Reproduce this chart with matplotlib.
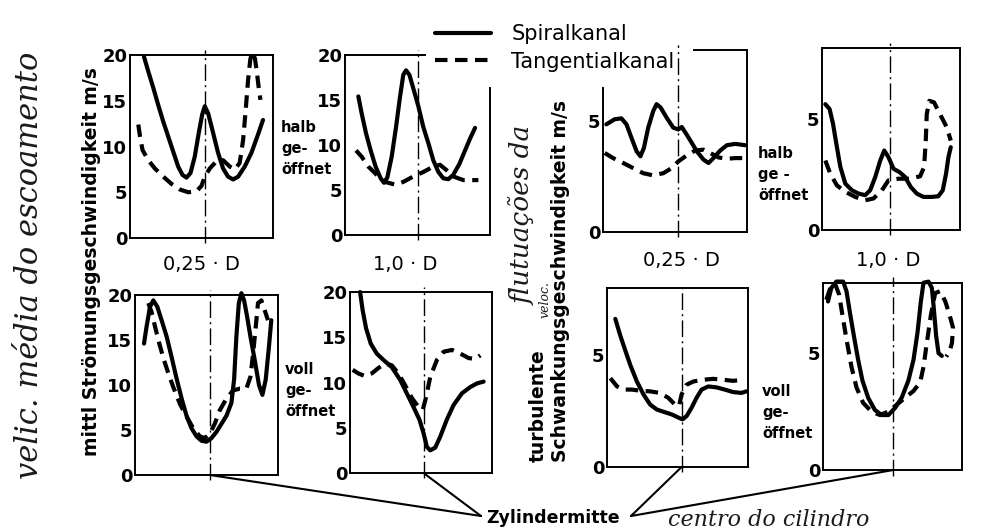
import matplotlib.pyplot as plt

# --- Daten (x = Position über die Messbreite 0..1, y = Geschwindigkeit m/s) ---
# oben links: mittl. Geschwindigkeit, 0,25 D, halb geöffnet
p1_sp_x = [.098, .128, .163, .198, .233, .267, .302, .337, .367, .395, .423, .453, .481, .505, .523,
           .547, .581, .616, .651, .686, .721, .756, .802, .849, .895, .930]
p1_sp_y = [19.8, 18.2, 16.4, 14.5, 12.7, 11.1, 9.45, 7.8, 6.9, 6.6, 7.1, 8.9, 11.5, 13.5, 14.4,
           13.6, 11.5, 9.3, 7.6, 6.7, 6.4, 6.7, 7.8, 9.3, 11.3, 12.9]
p1_ta_x = [.058, .070, .088, .128, .174, .233, .291, .349, .407, .465, .500, .523, .558, .605,
           .651, .698, .733, .767, .791, .809, .826, .842, .856, .874, .888, .902, .912]
p1_ta_y = [12.4, 11.1, 9.6, 8.5, 7.6, 6.7, 5.9, 5.3, 5.0, 5.1, 5.7, 6.7, 7.6, 8.4,
           8.5, 7.8, 7.5, 8.2, 10.7, 14.0, 17.3, 19.6, 20.3, 19.6, 18.0, 16.2, 15.1]

# mittl. Geschwindigkeit, 1,0 D, halb geöffnet
p2_sp_x = [.092, .115, .145, .177, .211, .246, .269, .292, .322, .352, .379, .402, .421, .444,
           .471, .506, .540, .575, .609, .644, .678, .713, .747, .789, .828, .862, .897]
p2_sp_y = [15.4, 13.5, 11.3, 9.4, 7.6, 6.3, 5.8, 6.4, 8.7, 12.0, 15.3, 17.8, 18.3, 17.8,
           16.3, 14.3, 12.0, 10.2, 8.3, 7.0, 6.3, 6.2, 6.7, 7.9, 9.4, 10.7, 11.9]
p2_ta_x = [.076, .115, .161, .218, .276, .345, .402, .471, .540, .609, .655, .701, .747, .816, .874, .920]
p2_ta_y = [9.4, 8.7, 7.6, 6.7, 5.9, 5.6, 5.9, 6.5, 7.0, 7.6, 7.8, 7.2, 6.5, 6.1, 6.1, 6.1]

# turbulente Schwankung, 0,25 D, halb geöffnet
p3_sp_x = [.023, .081, .128, .163, .198, .233, .260, .284, .314, .349, .372, .400, .442, .488,
           .523, .547, .581, .616, .651, .698, .733, .767, .814, .860, .919, .988]
p3_sp_y = [4.85, 5.08, 5.12, 4.85, 4.24, 3.64, 3.41, 3.79, 4.70, 5.45, 5.76, 5.61, 5.15, 4.70,
           4.62, 4.73, 4.39, 4.02, 3.64, 3.26, 3.11, 3.33, 3.67, 3.91, 3.97, 3.91]
p3_ta_x = [.012, .070, .140, .209, .279, .349, .419, .477, .523, .581, .640, .698, .744, .802, .860, .919, .977]
p3_ta_y = [3.56, 3.33, 3.11, 2.88, 2.65, 2.55, 2.65, 2.88, 3.18, 3.45, 3.67, 3.71, 3.56, 3.36, 3.30, 3.33, 3.33]

# turbulente Schwankung, 1,0 D, halb geöffnet
p4_sp_x = [.024, .055, .080, .104, .133, .169, .217, .265, .313, .349, .386, .422, .451, .482,
           .518, .561, .602, .643, .687, .735, .795, .843, .875, .899, .916, .933]
p4_sp_y = [5.67, 5.45, 4.78, 3.88, 2.84, 2.09, 1.79, 1.64, 1.57, 1.79, 2.39, 3.13, 3.58, 3.28,
           2.76, 2.61, 2.39, 1.94, 1.64, 1.49, 1.49, 1.52, 1.79, 2.54, 3.28, 3.73]
p4_ta_x = [.024, .060, .108, .169, .241, .313, .373, .434, .482, .554, .639, .711, .740, .752,
           .759, .778, .812, .855, .904, .933]
p4_ta_y = [3.13, 2.54, 2.01, 1.72, 1.49, 1.34, 1.42, 1.79, 2.24, 2.31, 2.31, 2.42, 2.84, 4.03,
           5.22, 5.82, 5.75, 5.22, 4.63, 4.03]

# mittl. Geschwindigkeit, 0,25 D, voll geöffnet
p5_sp_x = [.063, .081, .105, .128, .156, .186, .221, .256, .291, .326, .360, .395, .430, .465,
           .500, .535, .570, .605, .640, .674, .693, .709, .726, .744, .763, .784, .807, .837,
           .867, .891, .914, .937, .953]
p5_sp_y = [14.6, 16.5, 18.7, 19.4, 18.7, 17.2, 15.4, 13.1, 10.7, 8.5, 6.6, 5.2, 4.3, 3.8,
           3.7, 4.1, 4.8, 5.7, 6.6, 8.0, 10.6, 15.4, 19.1, 20.2, 19.4, 17.6, 15.4, 12.8,
           10.0, 8.9, 10.6, 14.3, 17.2]
p5_ta_x = [.093, .116, .140, .170, .202, .233, .267, .314, .360, .407, .453, .488, .523, .558,
           .593, .640, .686, .733, .779, .807, .826, .844, .860, .884, .907, .930]
p5_ta_y = [19.1, 18.1, 16.5, 14.6, 12.8, 11.3, 9.8, 7.9, 6.5, 5.2, 4.3, 4.1, 4.6, 5.7,
           7.2, 8.5, 9.4, 9.6, 9.6, 10.9, 13.5, 16.4, 19.1, 19.4, 18.3, 17.2]

# mittl. Geschwindigkeit, 1,0 D, voll geöffnet
p6_sp_x = [.071, .089, .113, .146, .188, .235, .294, .353, .400, .447, .489, .518, .541, .565,
           .600, .635, .682, .729, .788, .847, .894, .941]
p6_sp_y = [20.0, 18.0, 16.0, 14.3, 13.2, 12.5, 11.7, 10.3, 8.8, 7.3, 5.9, 4.4, 2.9, 2.5,
           2.8, 4.0, 5.9, 7.5, 8.8, 9.5, 9.9, 10.1]
p6_ta_x = [.019, .059, .106, .153, .200, .247, .294, .341, .388, .435, .482, .513, .536, .565,
           .612, .659, .718, .776, .835, .882, .918]
p6_ta_y = [11.4, 11.0, 10.7, 11.0, 11.6, 12.1, 11.9, 11.0, 9.7, 8.3, 7.3, 7.0, 8.4, 10.6,
           12.5, 13.4, 13.6, 13.2, 12.7, 12.6, 13.0]

# turbulente Schwankung, 0,25 D, voll geöffnet
p7_sp_x = [.059, .094, .129, .165, .212, .259, .306, .353, .400, .459, .506, .536, .565, .600,
           .635, .671, .718, .776, .835, .894, .953, .988]
p7_sp_y = [6.62, 5.88, 5.22, 4.56, 3.82, 3.24, 2.79, 2.57, 2.47, 2.35, 2.21, 2.13, 2.28, 2.65,
           3.09, 3.46, 3.60, 3.56, 3.46, 3.35, 3.31, 3.38]
p7_ta_x = [.024, .071, .118, .176, .235, .306, .376, .435, .482, .511, .529, .565, .612, .682,
           .753, .824, .894, .965]
p7_ta_y = [3.97, 3.60, 3.46, 3.46, 3.41, 3.38, 3.31, 3.09, 2.79, 2.72, 3.24, 3.68, 3.82, 3.90,
           3.94, 3.90, 3.85, 3.90]

# turbulente Schwankung, 1,0 D, voll geöffnet
p8_sp_x = [.036, .060, .096, .145, .169, .193, .222, .253, .284, .325, .373, .422, .470, .518,
           .566, .614, .651, .680, .704, .723, .759, .783, .795, .814, .831, .855]
p8_sp_y = [7.21, 7.79, 8.06, 8.06, 7.65, 6.76, 5.74, 4.71, 3.82, 3.09, 2.57, 2.35, 2.35, 2.65,
           3.09, 3.82, 4.71, 5.88, 7.21, 8.01, 8.06, 7.79, 7.06, 5.74, 5.00, 4.88]
p8_ta_x = [.024, .053, .084, .116, .140, .169, .205, .241, .289, .349, .410, .470, .530, .590,
           .651, .699, .723, .747, .776, .807, .843, .880, .911, .935, .928, .911, .887]
p8_ta_y = [7.28, 7.79, 8.01, 7.50, 6.62, 5.59, 4.41, 3.53, 2.87, 2.50, 2.35, 2.50, 2.79, 3.09,
           3.38, 3.75, 4.41, 5.44, 6.62, 7.57, 7.65, 7.21, 6.62, 6.10, 5.44, 5.07, 4.85]

# Lage der Zylindermitte in jedem Diagramm
centers = [.523, .506, .523, .494, .523, .518, .529, .506]

W, H = 985, 531
fig = plt.figure(figsize=(W / 100, H / 100), dpi=100)
fig.patch.set_facecolor('white')


def px_axes(l, t, r, b):
    return fig.add_axes([l / W, 1 - b / H, (r - l) / W, (b - t) / H])


def fx(x):
    return x / W


def fy(y):
    return 1 - y / H


boxes = [(130, 55, 273, 238), (345, 55, 490, 235), (603, 50, 747, 232), (822, 48, 960, 230),
         (135, 295, 278, 475), (350, 292, 492, 473), (607, 288, 748, 467), (823, 283, 962, 470)]
series = [(p1_sp_x, p1_sp_y, p1_ta_x, p1_ta_y), (p2_sp_x, p2_sp_y, p2_ta_x, p2_ta_y),
          (p3_sp_x, p3_sp_y, p3_ta_x, p3_ta_y), (p4_sp_x, p4_sp_y, p4_ta_x, p4_ta_y),
          (p5_sp_x, p5_sp_y, p5_ta_x, p5_ta_y), (p6_sp_x, p6_sp_y, p6_ta_x, p6_ta_y),
          (p7_sp_x, p7_sp_y, p7_ta_x, p7_ta_y), (p8_sp_x, p8_sp_y, p8_ta_x, p8_ta_y)]
ylims = [20, 20, 8.2, 8.2, 20, 20, 8, 8]

dash = (0, (3, 1.8))
axes = []
for i, (box, s, top, c) in enumerate(zip(boxes, series, ylims, centers)):
    ax = px_axes(*box)
    ax.set_xlim(0, 1)
    ax.set_ylim(0, top)
    sp, = ax.plot(s[0], s[1], color='black', lw=3, solid_capstyle='round',
                  solid_joinstyle='round', clip_on=False)
    ta, = ax.plot(s[2], s[3], color='black', lw=3, linestyle=dash, clip_on=False)
    ax.axvline(c, ymin=-0.03, ymax=1.03, color='black', lw=1.0,
               linestyle=(0, (12, 3, 1.5, 3)), clip_on=False)
    ax.set_xticks([])
    ax.set_yticks([0, 5, 10, 15, 20] if top == 20 else [0, 5])
    ax.tick_params(axis='y', length=0, pad=2, labelsize=13)
    for lab in ax.get_yticklabels():
        lab.set_fontweight('bold')
    for sp_ in ax.spines.values():
        sp_.set_linewidth(1.4)
    axes.append(ax)
    if i == 0:
        legend_handles = [sp, ta]

# Legende überdeckt Teile der Rahmen
axes[1].spines['top'].set_bounds(0, 0.55)
axes[1].spines['right'].set_bounds(0, 16.3)
axes[2].spines['left'].set_bounds(0, 6.5)
axes[2].spines['top'].set_bounds(0.63, 1)

fig.legend(legend_handles, ['Spiralkanal', 'Tangentialkanal'], loc='upper left',
           bbox_to_anchor=(fx(425), fy(14)), frameon=False, fontsize=15,
           handlelength=2.65, handletextpad=1.0, labelspacing=0.35, borderpad=0)

# Achsbeschriftungen
fig.text(fx(92), fy(262), 'mittl Strömungsgeschwindigkeit m/s', rotation=90,
         ha='center', va='center', fontsize=13.5, fontweight='bold')
fig.text(fx(538), fy(462), 'turbulente', rotation=90, ha='center', va='bottom',
         fontsize=13.5, fontweight='bold')
fig.text(fx(561), fy(462), 'Schwankungsgeschwindigkeit m/s', rotation=90, ha='center',
         va='bottom', fontsize=13.5, fontweight='bold')

for x, y, t in [(201, 265, '0,25 · D'), (405, 265, '1,0 · D'),
                (681, 260, '0,25 · D'), (888, 260, '1,0 · D')]:
    fig.text(fx(x), fy(y), t, ha='center', va='center', fontsize=14)

for x, y, t in [(281, 148, 'halb\nge-\nöffnet'), (758, 175, 'halb\nge -\nöffnet'),
                (285, 390, 'voll\nge-\nöffnet'), (762, 412, 'voll\nge-\nöffnet')]:
    fig.text(fx(x), fy(y), t, ha='left', va='center', fontsize=10.5, fontweight='bold',
             linespacing=1.5)

# Zylindermitte
fig.text(fx(486), fy(518), 'Zylindermitte', ha='left', va='center', fontsize=12.5,
         fontweight='bold')
for ax, c, sx in [(axes[4], centers[4], 481), (axes[5], centers[5], 481),
                  (axes[6], centers[6], 631), (axes[7], centers[7], 631)]:
    ax.annotate('', xy=(c, 0), xycoords='data', xytext=(fx(sx), fy(516)),
                textcoords='figure fraction',
                arrowprops=dict(arrowstyle='-', lw=1.5, color='black', shrinkA=0, shrinkB=0))

# handschriftliche Notizen
hand = dict(family='DejaVu Serif', style='italic', color='#1a1a1a')
fig.text(fx(30), fy(265), 'velic. média do escoamento', rotation=90, ha='center',
         va='center', fontsize=22, **hand)
fig.text(fx(523), fy(215), 'flutuações da', rotation=90, ha='center', va='center',
         fontsize=19, **hand)
fig.text(fx(545), fy(300), 'veloc.', rotation=90, ha='center', va='center',
         fontsize=9, **hand)
fig.text(fx(769), fy(520), 'centro do cilindro', ha='center', va='center',
         fontsize=16, **hand)

fig.savefig('out.png', dpi=100)
